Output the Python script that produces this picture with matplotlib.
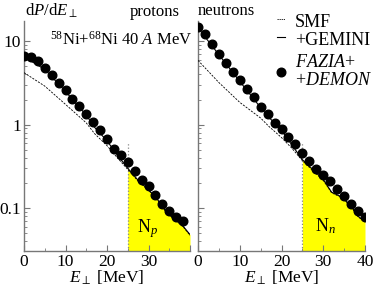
import numpy as np
import matplotlib
matplotlib.use('Agg')
import matplotlib.pyplot as plt
from matplotlib.lines import Line2D
from matplotlib.ticker import LogLocator, NullFormatter, FixedLocator

# Times-like serif everywhere
plt.rcParams['font.family'] = ['Liberation Serif', 'DejaVu Serif']
plt.rcParams['mathtext.fontset'] = 'custom'
plt.rcParams['mathtext.rm'] = 'Liberation Serif'
plt.rcParams['mathtext.it'] = 'Liberation Serif:italic'
plt.rcParams['font.size'] = 12

# data
e_prot = [0, 1.67, 3.33, 5, 6.67, 8.33, 10, 11.67, 13.33, 15, 16.67, 18.33,
          20, 21.67, 23.33, 25, 26.67, 28.33, 30, 31.67, 33.33, 35, 36.67, 38.33]
p_exp = [6.6, 6.4, 5.75, 4.8, 3.9, 3.16, 2.57, 2.05, 1.66, 1.34, 1.08, 0.855,
         0.67, 0.515, 0.436, 0.353, 0.275, 0.219, 0.182, 0.145, 0.112, 0.091, 0.079, 0.069]
e_neut = [0, 1.67, 3.33, 5, 6.67, 8.33, 10, 11.67, 13.33, 15, 16.67, 18.33,
          20, 21.67, 23.33, 25, 26.67, 28.33, 30, 31.67, 33.33, 35, 36.67, 38.33, 40]
n_exp = [15.0, 12.1, 9.2, 7.1, 5.5, 4.3, 3.4, 2.65, 2.15, 1.64, 1.33, 1.06,
         0.88, 0.72, 0.586, 0.457, 0.363, 0.295, 0.247, 0.209, 0.171, 0.14, 0.112, 0.091, 0.079]

e_line = [0, 5, 10, 15, 17, 20, 22.5, 25, 27.5, 30, 32, 34.5, 36.7, 38.4, 40]
p_gem = [6.5, 4.6, 2.5, 1.3, 0.93, 0.64, 0.43, 0.30, 0.215, 0.166, 0.13, 0.087, 0.071, 0.06, 0.048]
p_smf = [4.2, 2.9, 1.75, 1.05, 0.78, 0.56, 0.40, 0.29, 0.21, 0.163, 0.128, 0.086, 0.07, 0.059, 0.047]
n_gem = [14.5, 6.9, 3.3, 1.6, 1.22, 0.86, 0.57, 0.38, 0.29, 0.22, 0.155, 0.135, 0.105, 0.079, 0.069]
n_smf = [5.9, 3.2, 1.85, 1.2, 0.95, 0.70, 0.52, 0.37, 0.28, 0.215, 0.152, 0.133, 0.103, 0.078, 0.068]

E_CUT = 25
W, H = 374, 286
fig = plt.figure(figsize=(W / 100, H / 100), dpi=100)

def px_axes(x0, x1, y0, y1):
    return fig.add_axes([x0 / W, 1 - y1 / H, (x1 - x0) / W, (y1 - y0) / H])

def ftext(x, y, s, **kw):
    # text placed in figure pixels, y from the top
    return fig.text(x / W, 1 - y / H, s, **kw)

ax_p = px_axes(24, 190, 21, 251)
ax_n = px_axes(198, 365, 21, 251)

panels = [(ax_p, e_prot, p_exp, p_gem, p_smf, 'N$_{\\mathit{p}}$', 27.3, 0.0505),
          (ax_n, e_neut, n_exp, n_gem, n_smf, 'N$_{\\mathit{n}}$', 28.1, 0.0524)]
for ax, e_d, y_d, gem, smf, lab, lx, ly in panels:
    ax.set_yscale('log')
    ax.set_xlim(0, 40)
    ax.set_ylim(0.0305, 17.5)
    e_arr = np.array(e_line)
    g_arr = np.array(gem)
    m = e_arr >= E_CUT
    ax.fill_between(e_arr[m], 0.001, g_arr[m], color='#ffff00', lw=0, zorder=1)
    ax.plot([E_CUT, E_CUT], [0.0305, 0.6], ls=':', color='#888888', lw=0.9, zorder=2)
    ax.plot(e_line, smf, ls=(0, (2.5, 1.5)), color='black', lw=0.6, zorder=3)
    ax.plot(e_line, gem, ls='-', color='black', lw=0.8, zorder=3)
    ax.plot(e_d, y_d, 'o', color='black', ms=6.2, zorder=4)
    ax.text(lx, ly, lab, fontsize=13, ha='left', va='baseline')

    for s in ['top', 'right']:
        ax.spines[s].set_visible(False)
    for s in ['left', 'bottom']:
        ax.spines[s].set_color('#777777')
        ax.spines[s].set_linewidth(1.0)
    ax.patch.set_alpha(0)
    ax.xaxis.set_major_locator(FixedLocator([0, 10, 20, 30, 40]))
    ax.xaxis.set_minor_locator(FixedLocator([5, 15, 25, 35]))
    ax.yaxis.set_major_locator(LogLocator(base=10, numticks=10))
    ax.yaxis.set_minor_locator(LogLocator(base=10, subs=np.arange(2, 10), numticks=10))
    ax.yaxis.set_minor_formatter(NullFormatter())
    ax.tick_params(which='both', direction='in', color='#777777', labelsize=12.5, pad=2)
    ax.tick_params(which='major', length=4)
    ax.tick_params(which='minor', length=2)

ax_p.set_yticks([0.1, 1, 10])
ax_p.set_yticklabels(['0.1', '1', '10'])
ax_p.set_xticklabels(['0', '10', '20', '30', ''])
ax_n.set_yticklabels([])

ftext(107, 282.5, '$E_\\perp$ [MeV]', fontsize=12.5, ha='center', va='baseline')
ftext(281.5, 282.5, '$E_\\perp$ [MeV]', fontsize=12.5, ha='center', va='baseline')

ftext(25, 16, 'd$P$/d$E_\\perp$', fontsize=12, ha='left', va='baseline')
ftext(155, 16, 'protons', fontsize=12, ha='center', va='baseline')
ftext(226, 15, 'neutrons', fontsize=12, ha='center', va='baseline')
ftext(121, 45, '$^{58}$Ni+$^{68}$Ni 40 $A$ MeV', fontsize=12,
      ha='center', va='baseline')

# legend drawn by hand to match the row spacing
leg_fs = 13
fig.add_artist(Line2D([277 / W, 285 / W], [1 - 19 / H, 1 - 19 / H],
                      ls=(0, (1.5, 1.0)), color='black', lw=0.6))
fig.add_artist(Line2D([277 / W, 285 / W], [1 - 37 / H, 1 - 37 / H],
                      ls='-', color='black', lw=0.8))
fig.add_artist(Line2D([281 / W], [1 - 72 / H], ls='', marker='o',
                      color='black', ms=6.2))
ftext(295, 27, 'SMF', fontsize=leg_fs, ha='left', va='baseline')
ftext(295, 45, '+GEMINI', fontsize=leg_fs, ha='left', va='baseline')
ftext(295, 67, '$FAZIA$+', fontsize=leg_fs, ha='left', va='baseline')
ftext(295, 85, '+$DEMON$', fontsize=leg_fs, ha='left', va='baseline')

fig.savefig('out.png', dpi=100)
